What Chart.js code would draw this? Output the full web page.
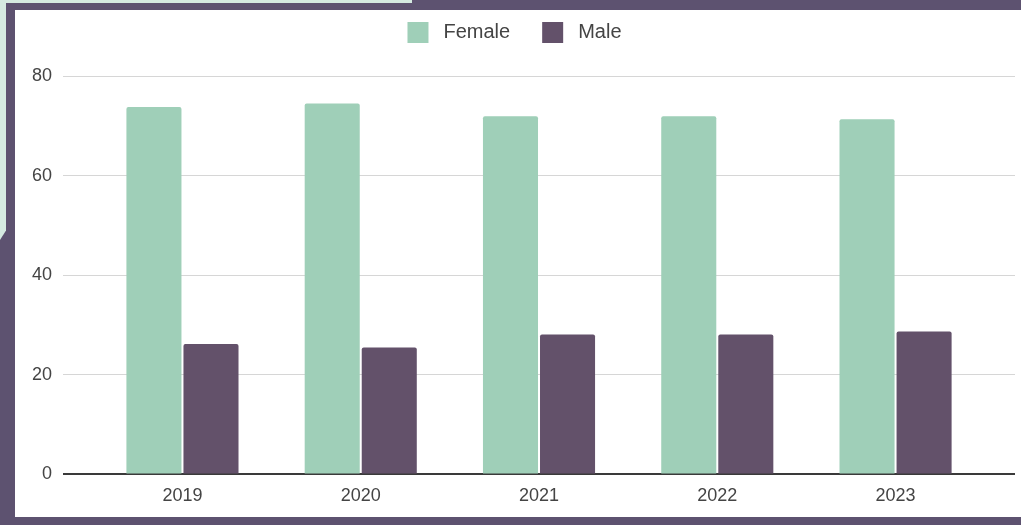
<!DOCTYPE html>
<html>
<head>
<meta charset="utf-8">
<script src="https://cdn.jsdelivr.net/npm/chart.js@4/dist/chart.umd.min.js"></script>
<style>
  html, body { margin: 0; padding: 0; }
  body { width: 1021px; height: 525px; background: #5d5270; position: relative; overflow: hidden; }
  .mint-top { position: absolute; left: 0; top: 0; width: 412px; height: 3px; background: #d5eae1; }
  .mint-left { position: absolute; left: 0; top: 0; width: 6px; height: 240px; background: #d5eae1;
               clip-path: polygon(0 0, 100% 0, 100% 96%, 0 100%); }
  .panel { position: absolute; left: 15px; top: 10px; right: 0; bottom: 8px; background: #ffffff; }
  #wrap { position: absolute; left: 0; top: 0; width: 1021px; height: 525px; }
</style>
</head>
<body>
<div class="mint-top"></div>
<div class="mint-left"></div>
<div class="panel"></div>
<div id="wrap"><canvas id="chart" width="1021" height="525"></canvas></div>
<script>
// Share of staff by gender, per year (percent)
const years = ['2019', '2020', '2021', '2022', '2023'];
const female = [73.8, 74.5, 71.9, 71.9, 71.3];
const male = [26.2, 25.5, 28.1, 28.1, 28.7];
const yTicks = [0, 20, 40, 60, 80];

const FONT = '"Liberation Sans", Arial, Helvetica, sans-serif';
const toPoints = arr => arr.map((v, i) => ({ x: i, y: v }));

// Extra room under the legend, and centre it on the white panel
const legendSpacing = {
  id: 'legendSpacing',
  afterInit(chart) {
    const legend = chart.legend;
    const fit = legend.fit;
    legend.fit = function () {
      fit.call(this);
      this.height += 18;
    };
  },
  afterLayout(chart) {
    chart.legend.left -= 6;
    chart.legend.right -= 6;
  }
};

new Chart(document.getElementById('chart'), {
  type: 'bar',
  data: {
    datasets: [
      {
        label: 'Female',
        data: toPoints(female),
        backgroundColor: '#9fcfb8',
        borderRadius: { topLeft: 2, topRight: 2 },
        borderSkipped: 'bottom',
        categoryPercentage: 0.64,
        barPercentage: 0.965
      },
      {
        label: 'Male',
        data: toPoints(male),
        backgroundColor: '#63516a',
        borderRadius: { topLeft: 2, topRight: 2 },
        borderSkipped: 'bottom',
        categoryPercentage: 0.64,
        barPercentage: 0.965
      }
    ]
  },
  plugins: [legendSpacing],
  options: {
    responsive: false,
    animation: false,
    layout: { padding: { left: 21, right: 6, top: -10, bottom: 15 } },
    plugins: {
      tooltip: { enabled: false },
      legend: {
        position: 'top',
        align: 'center',
        labels: {
          boxWidth: 31,
          boxHeight: 31,
          padding: 27,
          color: '#444',
          font: { family: FONT, size: 20 },
          // white outline trims the swatch to a 21px square and widens the gap to its text
          generateLabels: chart =>
            Chart.defaults.plugins.legend.labels.generateLabels(chart).map(item => ({
              ...item,
              strokeStyle: '#ffffff',
              lineWidth: 10
            }))
        }
      }
    },
    scales: {
      x: {
        type: 'linear',
        offset: false,
        min: -0.67,
        max: years.length - 1 + 0.67,
        afterBuildTicks: scale => { scale.ticks = years.map((_, i) => ({ value: i })); },
        ticks: {
          color: '#444',
          padding: 3,
          font: { family: FONT, size: 18 },
          callback: v => years[v] ?? ''
        },
        grid: { display: false },
        border: { display: false }
      },
      y: {
        min: 0,
        max: 80,
        afterBuildTicks: scale => { scale.ticks = yTicks.map(v => ({ value: v })); },
        ticks: {
          color: '#444',
          padding: 11,
          font: { family: FONT, size: 18 }
        },
        grid: {
          drawTicks: false,
          color: c => (c.tick && c.tick.value === 0 ? '#3a3a3a' : '#d6d6d6'),
          lineWidth: c => (c.tick && c.tick.value === 0 ? 2 : 1)
        },
        border: { display: false }
      }
    }
  }
});
</script>
</body>
</html>
